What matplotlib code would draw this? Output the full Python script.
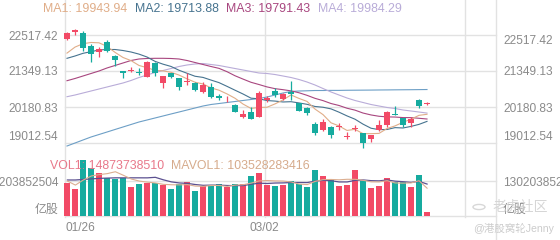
import matplotlib
matplotlib.use('Agg')
import matplotlib.pyplot as plt
from matplotlib.lines import Line2D
from matplotlib.patches import Circle
from matplotlib.transforms import blended_transform_factory
import numpy as np

plt.rcParams['font.family'] = ['Liberation Sans', 'Noto Sans CJK SC', 'DejaVu Sans']

# ---------------- data ----------------
date_labels = ['01/26', '03/02', '']
date_idx = [0, 25, 50]

opens = [22388, 22605, 22592, 22170, 21956, 22290, 21836, 21349, 21349, 21317, 21164, 21618, 20950, 21274, 21112,
         20992, 20960, 20677, 20840, 20538, 20392, 20246, 19847, 20018, 19866, 20424, 20710, 20440, 20677, 20301,
         20148, 19630, 19434, 19542, 19526, 19207, 19467, 19337, 19142, 19434, 19597, 19960, 19814, 19652, 20408, 20262]
closes = [22573, 22680, 22105, 21891, 22073, 21998, 21706, 21274, 21382, 21284, 21641, 21274, 21189, 21145, 20840,
          21025, 20733, 20895, 20515, 20463, 20424, 20028, 19954, 19801, 20625, 20457, 20570, 20603, 20603, 20061,
          19976, 19327, 19704, 19272, 19558, 19240, 19499, 19012, 19272, 19597, 20028, 19928, 19597, 19782, 20213, 20295]
highs = [22615, 22712, 22647, 22225, 22112, 22355, 21868, 21365, 21463, 21446, 21674, 21657, 21203, 21284, 21122,
         21284, 20976, 21002, 20969, 20603, 20538, 20262, 20084, 20171, 20700, 20538, 20788, 20619, 21025, 20311,
         20165, 19704, 19792, 19565, 19652, 19379, 19597, 19353, 19288, 19760, 20051, 20213, 19824, 19847, 20440, 20327]
lows = [22355, 22517, 22008, 21641, 21803, 21966, 21511, 21122, 21317, 21219, 21154, 21189, 20807, 21122, 20733,
        20895, 20716, 20651, 20489, 20408, 20343, 20018, 19824, 19792, 19857, 20343, 20515, 20424, 20408, 20051,
        19921, 19272, 19418, 19175, 19434, 19142, 19402, 18860, 19054, 19418, 19542, 19921, 19542, 19542, 20148, 20246]

ma1 = [21930, 22125, 22235, 22275, 22264, 22149, 21955, 21788, 21687, 21529, 21457, 21371, 21354, 21307, 21218,
       21095, 20986, 20928, 20802, 20726, 20606, 20465, 20277, 20134, 20166, 20173, 20281, 20411, 20572, 20459,
       20363, 20114, 19934, 19668, 19567, 19420, 19455, 19316, 19316, 19324, 19482, 19567, 19684, 19786, 19910, 19944]
ma2 = [21761, 21836, 21923, 21976, 22031, 22047, 22047, 22014, 21966, 21897, 21803, 21663, 21571, 21497, 21374,
       21276, 21179, 21141, 21055, 20972, 20851, 20726, 20603, 20468, 20446, 20390, 20373, 20344, 20353, 20313,
       20268, 20198, 20173, 20120, 20013, 19892, 19785, 19625, 19492, 19446, 19451, 19511, 19500, 19551, 19617, 19714]
ma3 = [21034, 21106, 21187, 21268, 21349, 21447, 21528, 21609, 21690, 21739, 21755, 21761, 21761, 21755, 21739,
       21690, 21625, 21560, 21495, 21435, 21327, 21195, 21087, 20983, 20910, 20833, 20776, 20743, 20704, 20643,
       20560, 20462, 20388, 20294, 20230, 20141, 20079, 19985, 19923, 19880, 19860, 19855, 19837, 19836, 19815, 19791]
ma4 = [20515, 20570, 20635, 20700, 20765, 20830, 20895, 20960, 21041, 21138, 21219, 21300, 21365, 21430, 21495,
       21544, 21576, 21592, 21560, 21528, 21479, 21430, 21382, 21333, 21284, 21268, 21235, 21187, 21138, 21073,
       20992, 20895, 20781, 20668, 20570, 20473, 20392, 20327, 20262, 20213, 20165, 20132, 20084, 20051, 20018, 19984]
ma_long = [18915, 19012, 19110, 19207, 19288, 19369, 19451, 19532, 19613, 19694, 19759, 19824, 19889, 19954, 20018,
           20083, 20148, 20213, 20262, 20294, 20327, 20359, 20392, 20424, 20457, 20505, 20570, 20635, 20684, 20700,
           20707, 20716, 20716, 20720, 20720, 20724, 20726, 20728, 20730, 20733, 20735, 20738, 20740, 20742, 20745, 20748]

# volume in 1e9 shares
volume = [123.9, 101.6, 208.3, 177.4, 158.8, 142.5, 136.5, 142.5, 107.9, 120.2, 122.8, 121.6, 116.4, 100.4, 117.9,
          127.6, 94.1, 111.6, 116.4, 119.0, 109.0, 119.0, 117.9, 147.7, 158.8, 116.4, 111.6, 115.3, 131.3, 119.0,
          106.8, 171.1, 148.8, 133.9, 112.7, 116.4, 170.0, 131.3, 105.3, 110.5, 140.2, 127.6, 127.6, 109.0, 151.4, 14.87]
mavol1 = [130, 115, 134, 149, 154.0, 157.7, 164.7, 151.5, 137.6, 129.9, 126.0, 123.0, 117.8, 116.3, 115.8,
          116.8, 111.3, 110.3, 113.5, 113.7, 110.0, 115.0, 116.3, 122.5, 130.5, 132.0, 130.5, 130.0, 126.7, 118.7,
          116.8, 128.7, 135.4, 135.9, 134.7, 136.6, 136.4, 132.9, 127.1, 126.7, 131.5, 123.0, 122.2, 123.0, 131.2, 103.5]
mavol2 = [134, 134, 136, 138, 140, 141, 142, 142, 142, 142.0, 141.9, 143.9, 134.7, 127.0, 122.9,
          121.4, 117.1, 114.1, 114.9, 114.8, 113.4, 113.1, 113.3, 118.0, 122.1, 121.0, 122.7, 123.1, 124.6, 124.6,
          124.4, 129.6, 132.7, 131.3, 126.7, 126.7, 132.5, 134.1, 131.5, 130.7, 134.0, 129.7, 127.6, 125.1, 128.9, 118.8]

price_ticks = [19012.54, 20180.83, 21349.13, 22517.42]
vol_max = 130203852504
legend_ma = ['MA1: 19943.94', 'MA2: 19713.88', 'MA3: 19791.43', 'MA4: 19984.29']
legend_vol = ['VOL1: 14873738510', 'MAVOL1: 103528283416']

# ---------------- style ----------------
RED = '#f24a66'
TEAL = '#16ab9f'
GRID = '#e2e2e2'
TXT = '#8a8a8a'
C_MA = ['#e0ad88', '#46738f', '#a8467f', '#b9acd8']
C_LONG = '#6d9fc6'
C_MAV = ['#dcae90', '#5b5090']
FS = 8.6

W, H = 560, 240
fig = plt.figure(figsize=(W / 100, H / 100), dpi=100)
fig.patch.set_facecolor('white')


def rect(x0, y0, x1, y1):
    return [x0 / W, 1 - y1 / H, (x1 - x0) / W, (y1 - y0) / H]


L, R = 65, 496
xmin = -0.25
xmax = xmin + (R - L) / 8.0

ax = fig.add_axes(rect(L, 35, R, 143))
axv = fig.add_axes(rect(L, 181, R, 216))
for a in (ax, axv):
    a.set_xlim(xmin, xmax)
    a.set_facecolor('none')
    for s in a.spines.values():
        s.set_visible(False)

ax.set_ylim(price_ticks[0], price_ticks[-1])
axv.set_ylim(0, vol_max)

n = len(closes)
x = np.arange(n)
o = np.array(opens, float)
c = np.array(closes, float)
h = np.array(highs, float)
lo = np.array(lows, float)
up = c >= o
cols = [RED if u else TEAL for u in up]

# gridlines
for t in price_ticks:
    ax.axhline(t, color=GRID, lw=1.0, zorder=0, clip_on=False)
axv.axhline(vol_max, color=GRID, lw=1.0, zorder=0, clip_on=False)
axv.axhline(0, color=GRID, lw=1.0, zorder=0, clip_on=False)
btr = blended_transform_factory(ax.transData, fig.transFigure)
for i in date_idx:
    xv = i - 0.3
    fig.add_artist(Line2D([xv, xv], [1 - 217 / H, 1.0], transform=btr, color=GRID, lw=1.0, zorder=0))
fig.add_artist(Line2D([1.0, 1.0], [0, 1], transform=blended_transform_factory(ax.transAxes, fig.transFigure),
                      color=GRID, lw=1.0, zorder=0))

# candles
ax.vlines(x, lo, h, colors=cols, lw=0.9, zorder=3, clip_on=False)
body_h = np.maximum(np.abs(c - o), 30)
ax.bar(x, body_h, bottom=np.minimum(o, c), width=0.75, color=cols, lw=0, zorder=4, clip_on=False)

# moving averages
for arr, col in zip([ma_long, ma4, ma3, ma2, ma1], [C_LONG, C_MA[3], C_MA[2], C_MA[1], C_MA[0]]):
    ax.plot(x, arr, color=col, lw=0.8, zorder=2, clip_on=False)

# volume
vol = np.array(volume) * 1e9
axv.bar(x, vol, width=0.75, color=cols, lw=0, zorder=2, clip_on=False)
axv.plot(x, np.array(mavol2) * 1e9, color=C_MAV[1], lw=0.9, zorder=3, clip_on=False)
axv.plot(x, np.array(mavol1) * 1e9, color=C_MAV[0], lw=0.8, zorder=3, clip_on=False)

# y tick labels (both sides)
ax.set_yticks(price_ticks)
ax.set_yticklabels(['%.2f' % t for t in price_ticks])
ax.tick_params(axis='y', length=0, labelsize=FS, labelcolor=TXT, pad=5, labelleft=True, labelright=True)
for lab in ax.get_yticklabels() + ax.yaxis.get_ticklabels(which='major'):
    pass
ylabs_l = ax.yaxis.get_majorticklabels()
for side_labels in (ax.yaxis.get_ticklabels(), [t.label2 for t in ax.yaxis.get_major_ticks()]):
    side_labels[0].set_va('bottom')
    side_labels[-1].set_va('top')

axv.set_yticks([0, vol_max])
axv.set_yticklabels(['亿股', str(vol_max)])
axv.tick_params(axis='y', length=0, labelsize=FS, labelcolor=TXT, pad=5, labelleft=True, labelright=True)
for t in axv.yaxis.get_major_ticks():
    t.label1.set_va('bottom') if t.get_loc() == 0 else None
    t.label2.set_va('bottom') if t.get_loc() == 0 else None

ax.set_xticks([])
axv.set_xticks([i - 0.3 for i in date_idx[:2]])
axv.set_xticklabels(date_labels[:2])
axv.tick_params(axis='x', length=0, labelsize=FS, labelcolor=TXT, pad=4)
axv.get_xticklabels()[0].set_ha('left')

# legends
lx = [43, 135, 226, 318]
for txt, px, col in zip(legend_ma, lx, C_MA):
    fig.text(px / W, 1 - 9 / H, txt, color=col, fontsize=FS + 0.3, va='center', ha='left')
fig.text(50 / W, 1 - 166 / H, legend_vol[0], color='#e8788a', fontsize=FS + 0.3, va='center', ha='left')
fig.text(171 / W, 1 - 166 / H, legend_vol[1], color='#d6ab8c', fontsize=FS + 0.3, va='center', ha='left')

# watermark
fig.add_artist(Circle((479 / W, 1 - 207 / H), 6 / W, transform=fig.transFigure, fill=False,
                      ec='#d8d8d8', lw=1.0, zorder=1))
fig.text(493 / W, 1 - 207 / H, '老虎社区', color='#d6d6d6', fontsize=10, va='center', ha='left', zorder=1)
fig.text(473 / W, 1 - 228 / H, '@港股窝轮Jenny', color='#cccccc', fontsize=7.6, va='center', ha='left')

fig.savefig('out.png', dpi=100, facecolor='white')
